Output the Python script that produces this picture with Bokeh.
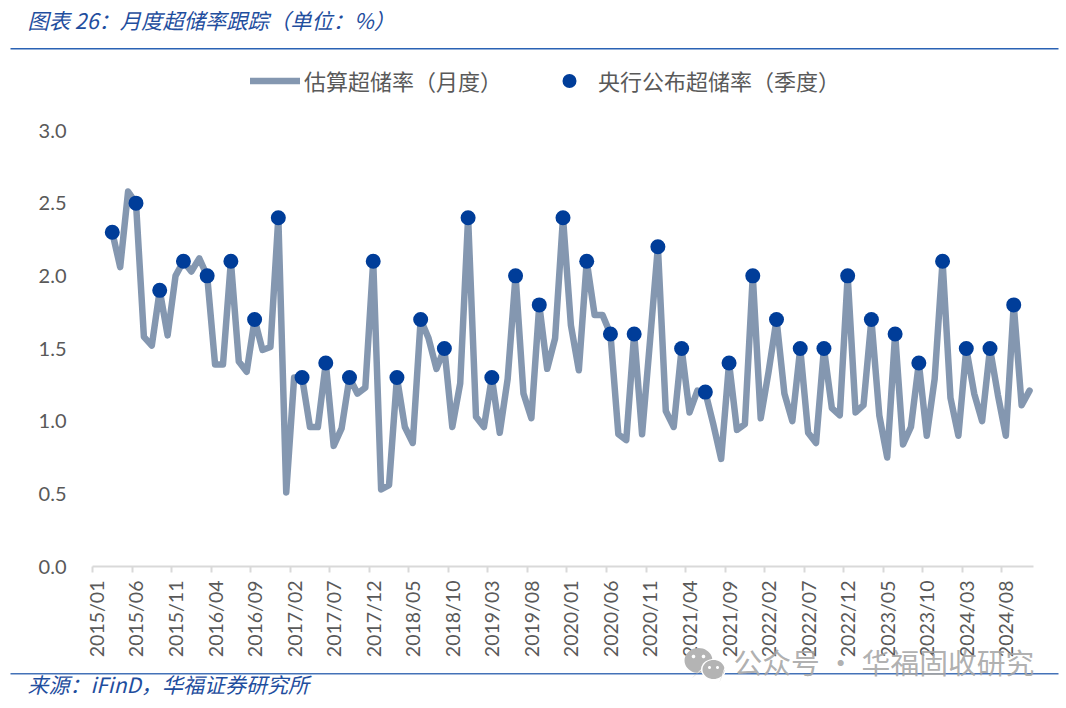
import math
from bokeh.plotting import figure
from bokeh.models import (ColumnDataSource, Range1d, FixedTicker, Label, BoxAnnotation, PolyAnnotation,
                          Legend, LegendItem, LinearAxis)
from bokeh.embed import file_html
from bokeh.resources import INLINE

tick_labels = ["2015/01","2015/06","2015/11","2016/04","2016/09","2017/02","2017/07","2017/12",
               "2018/05","2018/10","2019/03","2019/08","2020/01","2020/06","2020/11","2021/04",
               "2021/09","2022/02","2022/07","2022/12","2023/05","2023/10","2024/03","2024/08"]
y_ticks = [0.0, 0.5, 1.0, 1.5, 2.0, 2.5, 3.0]

# monthly series, 2015/03 .. 2024/11
estimated = [2.30,2.06,2.58,2.50,1.58,1.52,1.90,1.59,2.00,2.10,2.03,2.12,2.00,1.39,1.39,2.10,1.41,1.34,1.70,1.49,
             1.51,2.40,0.51,1.30,1.30,0.96,0.96,1.40,0.83,0.95,1.30,1.19,1.23,2.10,0.53,0.56,1.30,0.96,0.85,1.70,
             1.57,1.36,1.50,0.96,1.26,2.40,1.03,0.96,1.30,0.92,1.29,2.00,1.19,1.02,1.80,1.36,1.57,2.40,1.66,1.35,
             2.10,1.73,1.73,1.60,0.91,0.87,1.60,0.91,1.55,2.20,1.07,0.96,1.50,1.06,1.21,1.20,0.98,0.74,1.40,0.94,
             0.98,2.00,1.02,1.34,1.70,1.19,1.00,1.50,0.92,0.85,1.50,1.09,1.04,2.00,1.06,1.11,1.70,1.04,0.75,1.60,
             0.84,0.96,1.40,0.90,1.29,2.10,1.16,0.90,1.50,1.19,1.00,1.50,1.18,0.90,1.80,1.11,1.21]
# quarterly series, 2015/03 .. 2024/09
pboc = [2.3,2.5,1.9,2.1,2.0,2.1,1.7,2.4,1.3,1.4,1.3,2.1,1.3,1.7,1.5,2.4,1.3,2.0,1.8,2.4,
        2.1,1.6,1.6,2.2,1.5,1.2,1.4,2.0,1.7,1.5,1.5,2.0,1.7,1.6,1.4,2.1,1.5,1.5,1.8]
n_months = 119
first_month = 2
y_max = 3.0

legend_line = "估算超储率（月度）"
legend_dot = "央行公布超储率（季度）"
title_text = "图表 26：月度超储率跟踪（单位：%）"
source_text = "来源：iFinD，华福证券研究所"
watermark_text = "公众号 · 华福固收研究"

CJK = "Noto Sans CJK SC"
NUM = "Lato"
GRAY = "#595959"
LINE = "#8497B0"
DOT = "#003D99"
BLUE = "#1F4E9E"

W, H = 1060, 700
PLOT_L, PLOT_R, PLOT_T, PLOT_B = 92, 1033, 130, 566

line_src = ColumnDataSource(dict(x=[first_month + k + 0.5 for k in range(len(estimated))], y=estimated))
dot_src = ColumnDataSource(dict(x=[first_month + 3 * k + 0.5 for k in range(len(pboc))], y=pboc))

# the frame fills the canvas so that texts around the chart are not clipped; the axes are pinned at zero
ux = n_months / (PLOT_R - PLOT_L)
uy = y_max / (PLOT_B - PLOT_T)
p = figure(width=W, height=H, output_backend="svg", toolbar_location=None,
           x_range=Range1d(-PLOT_L * ux, (W - PLOT_L) * ux),
           y_range=Range1d(-(H - PLOT_B) * uy, PLOT_B * uy),
           min_border_left=0, min_border_right=0, min_border_top=0, min_border_bottom=0,
           outline_line_color=None, background_fill_color="white", border_fill_color="white")
p.grid.visible = False

line_r = p.line("x", "y", source=line_src, line_color=LINE, line_width=6.5, line_join="round", line_cap="round")
dot_r = p.scatter("x", "y", source=dot_src, size=15, fill_color=DOT, line_color=DOT, line_width=0)

tick_pos = [5 * k for k in range(len(tick_labels))]

xa = p.xaxis[0]
xa.fixed_location = 0
xa.bounds = (0, n_months)
xa.ticker = FixedTicker(ticks=tick_pos)
xa.major_label_text_color = None
xa.major_label_text_font_size = "1px"
xa.major_label_overrides = {t: " " for t in tick_pos}
xa.major_label_standoff = 0
xa.major_tick_out = 6
xa.major_tick_in = 0
xa.major_tick_line_color = "#D9D9D9"
xa.major_tick_line_width = 2
xa.minor_tick_line_color = None
xa.axis_line_color = "#D9D9D9"
xa.axis_line_width = 2

label_axis = LinearAxis(fixed_location=0, bounds=(0, n_months),
                        ticker=FixedTicker(ticks=[t + 0.5 for t in tick_pos]),
                        major_label_overrides={t + 0.5: s for t, s in zip(tick_pos, tick_labels)},
                        major_label_orientation=math.pi / 2, major_label_text_font=NUM,
                        major_label_text_font_size="19.5px", major_label_text_color=GRAY,
                        major_label_standoff=14, major_tick_out=0, major_tick_in=0,
                        major_tick_line_color=None, minor_tick_line_color=None, axis_line_color=None)
p.add_layout(label_axis, "below")

ya = p.yaxis[0]
ya.fixed_location = 0
ya.bounds = (0, y_max)
ya.ticker = FixedTicker(ticks=y_ticks)
ya.major_label_overrides = {v: f"{v:.1f}" for v in y_ticks}
ya.major_label_text_font = NUM
ya.major_label_text_font_size = "20px"
ya.major_label_text_color = GRAY
ya.major_label_standoff = 26
ya.major_tick_out = 0
ya.major_tick_in = 0
ya.major_tick_line_color = None
ya.minor_tick_line_color = None
ya.axis_line_color = None

legend = Legend(items=[LegendItem(label=legend_line, renderers=[line_r]),
                       LegendItem(label=legend_dot, renderers=[dot_r])],
                orientation="horizontal", location=(250, H - 80 - 17.5), border_line_color=None,
                background_fill_alpha=0, padding=0, margin=0, spacing=42,
                glyph_width=50, glyph_height=35, label_standoff=4, label_height=35,
                label_text_font=CJK, label_text_font_size="22px", label_text_color=GRAY)
p.add_layout(legend, "center")

def rule(y0, y1, color):
    p.add_layout(BoxAnnotation(left=10, right=1058, top=y0, bottom=y1,
                               left_units="canvas", right_units="canvas", top_units="canvas", bottom_units="canvas",
                               fill_color=color, fill_alpha=1, line_alpha=0))
rule(47.5, 49, "#2A62B4")
rule(672.5, 674, "#4472B8")

def text(s, x, y, size, color, font=CJK, style="normal", alpha=1.0):
    p.add_layout(Label(x=x, y=y, x_units="canvas", y_units="canvas", text=s, text_font=font,
                       text_font_size=size, text_color=color, text_font_style=style, text_alpha=alpha,
                       text_baseline="middle", text_align="left"))

text(title_text, 27, 19, "21.3px", BLUE, style="italic")
text(source_text, 27, 683, "21px", BLUE, style="italic")
text(watermark_text, 733, 661, "28.8px", "#A6A6A6", alpha=0.9)

# WeChat-like icon in the watermark
def bubble(cx, cy, rx, ry, color, tail=None):
    xs, ys = [], []
    for k in range(40):
        a = 2 * math.pi * k / 40
        xs.append(cx + rx * math.cos(a))
        ys.append(cy + ry * math.sin(a))
    if tail:
        xs += [tail[0]]; ys += [tail[1]]
    p.add_layout(PolyAnnotation(xs=xs, ys=ys, xs_units="canvas", ys_units="canvas", fill_color=color,
                                fill_alpha=1, line_alpha=0))

bubble(698, 660, 14, 12.5, "#B4B4B4", tail=(691, 678))
bubble(713, 669, 12.5, 10.5, "#FFFFFF")
bubble(713, 669, 11, 9.5, "#B4B4B4", tail=(719, 682))
for cx, cy, r in [(693, 656, 1.8), (703, 656, 1.8), (709, 667, 1.5), (717, 667, 1.5)]:
    bubble(cx, cy, r, r, "#FFFFFF")

open("out.html", "w").write(file_html(p, INLINE))
